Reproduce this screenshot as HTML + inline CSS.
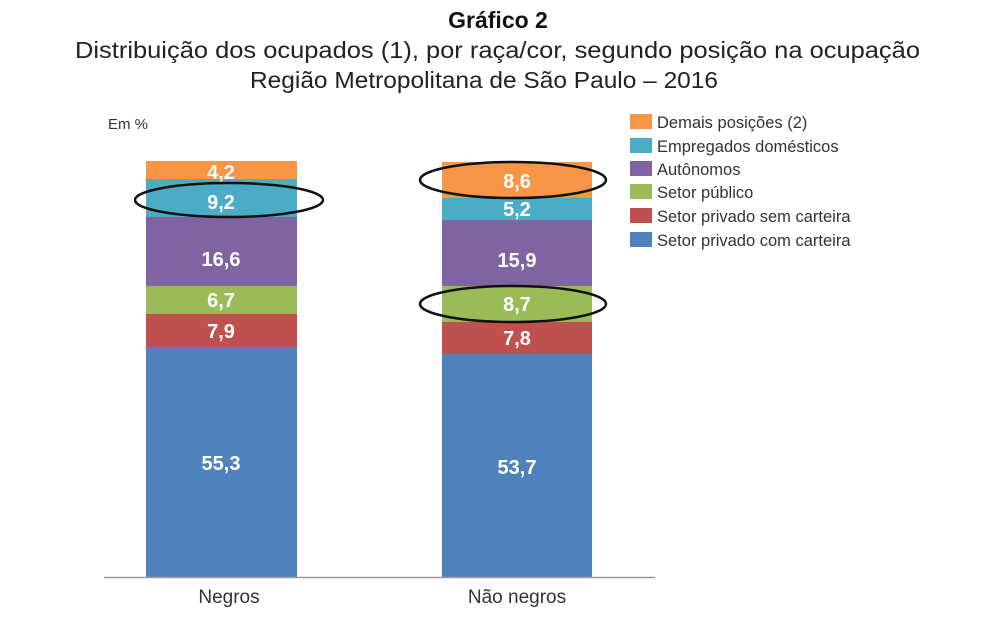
<!DOCTYPE html>
<html><head><meta charset="utf-8"><style>
body{margin:0;background:#fff;width:1000px;height:626px;overflow:hidden;font-family:"Liberation Sans",sans-serif}
</style></head><body>
<svg width="1000" height="626" xmlns="http://www.w3.org/2000/svg" font-family="Liberation Sans, sans-serif">
<text x="498" y="28" text-anchor="middle" font-size="23" font-weight="bold" fill="#111">Gráfico 2</text>
<text x="75" y="58" textLength="845" lengthAdjust="spacingAndGlyphs" font-size="23" fill="#222">Distribuição dos ocupados (1), por raça/cor, segundo posição na ocupação</text>
<text x="250" y="88" textLength="468" lengthAdjust="spacingAndGlyphs" font-size="23" fill="#222">Região Metropolitana de São Paulo – 2016</text>
<text x="108" y="129" font-size="15" fill="#333">Em %</text>
<g>
<rect x="146" y="347" width="151" height="230" fill="#4f81bd"/>
<rect x="146" y="314" width="151" height="33" fill="#c0504d"/>
<rect x="146" y="286" width="151" height="28" fill="#9bbb59"/>
<rect x="146" y="217" width="151" height="69" fill="#8064a2"/>
<rect x="146" y="179" width="151" height="38" fill="#4bacc6"/>
<rect x="146" y="161" width="151" height="18" fill="#f79646"/>
<rect x="442" y="354" width="150" height="223" fill="#4f81bd"/>
<rect x="442" y="322" width="150" height="32" fill="#c0504d"/>
<rect x="442" y="286" width="150" height="36" fill="#9bbb59"/>
<rect x="442" y="220" width="150" height="66" fill="#8064a2"/>
<rect x="442" y="198" width="150" height="22" fill="#4bacc6"/>
<rect x="442" y="162" width="150" height="36" fill="#f79646"/>
</g>
<line x1="104" y1="577.5" x2="655" y2="577.5" stroke="#999" stroke-width="1.5"/>
<g font-size="20" font-weight="bold" fill="#fff" text-anchor="middle">
<text x="221" y="470">55,3</text><text x="221" y="338">7,9</text><text x="221" y="307">6,7</text>
<text x="221" y="266">16,6</text><text x="221" y="209">9,2</text><text x="221" y="179">4,2</text>
<text x="517" y="474">53,7</text><text x="517" y="345">7,8</text><text x="517" y="311">8,7</text>
<text x="517" y="267">15,9</text><text x="517" y="216">5,2</text><text x="517" y="188">8,6</text>
</g>
<g fill="none" stroke="#111" stroke-width="2.5">
<ellipse cx="229" cy="200" rx="94" ry="17"/>
<ellipse cx="513" cy="180" rx="93" ry="18"/>
<ellipse cx="513" cy="304" rx="93" ry="18"/>
</g>
<text x="229" y="603" text-anchor="middle" font-size="19" fill="#333">Negros</text>
<text x="517" y="603" text-anchor="middle" font-size="19" fill="#333">Não negros</text>
<g font-size="16.5" fill="#333">
<rect x="630" y="114" width="22" height="15" fill="#f79646"/><text x="657" y="128">Demais posições (2)</text>
<rect x="630" y="138" width="22" height="15" fill="#4bacc6"/><text x="657" y="152">Empregados domésticos</text>
<rect x="630" y="161" width="22" height="15" fill="#8064a2"/><text x="657" y="175">Autônomos</text>
<rect x="630" y="184" width="22" height="15" fill="#9bbb59"/><text x="657" y="198">Setor público</text>
<rect x="630" y="208" width="22" height="15" fill="#c0504d"/><text x="657" y="222">Setor privado sem carteira</text>
<rect x="630" y="232" width="22" height="15" fill="#4f81bd"/><text x="657" y="246">Setor privado com carteira</text>
</g>
</svg>
</body></html>
